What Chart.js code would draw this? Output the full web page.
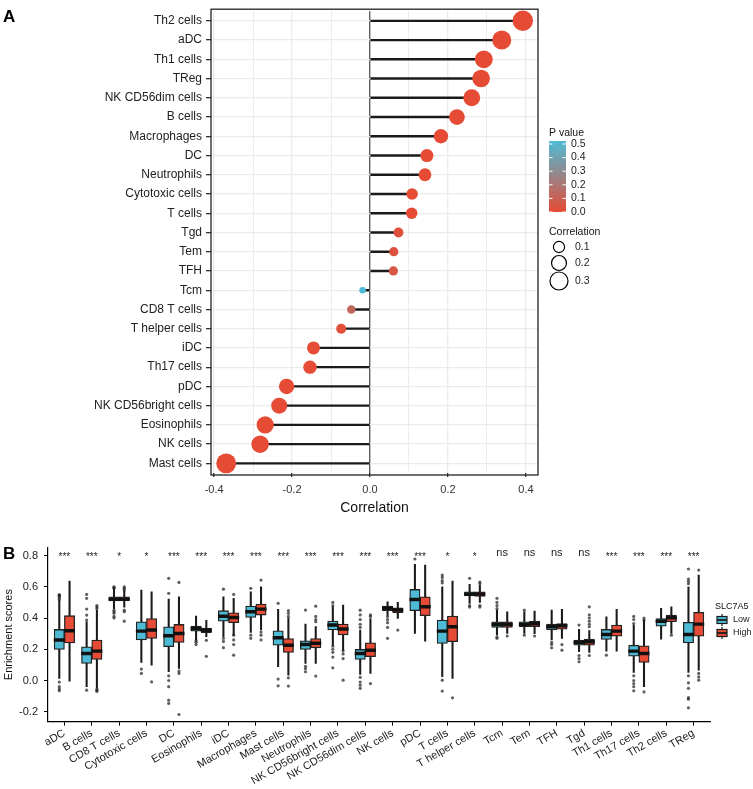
<!DOCTYPE html>
<html>
<head>
<meta charset="utf-8">
<script src="https://cdn.jsdelivr.net/npm/chart.js@4.4.0/dist/chart.umd.min.js"></script>
<style>
  html, body { margin: 0; padding: 0; background: #fff; }
  #chartA { position: absolute; left: 0; top: 0; }
  #chartB { position: absolute; left: 0; top: 535px; }
</style>
</head>
<body>
<canvas id="chartA" width="753" height="520"></canvas>
<canvas id="chartB" width="753" height="254"></canvas>
<script>
// ---------- panel A: correlation lollipop ----------
const cells = ['Th2 cells', 'aDC', 'Th1 cells', 'TReg', 'NK CD56dim cells', 'B cells', 'Macrophages', 'DC',
  'Neutrophils', 'Cytotoxic cells', 'T cells', 'Tgd', 'Tem', 'TFH', 'Tcm', 'CD8 T cells', 'T helper cells',
  'iDC', 'Th17 cells', 'pDC', 'NK CD56bright cells', 'Eosinophils', 'NK cells', 'Mast cells'];
const correlation = [0.392, 0.338, 0.292, 0.285, 0.261, 0.223, 0.182, 0.146, 0.141, 0.108, 0.107, 0.073,
  0.061, 0.060, -0.019, -0.048, -0.074, -0.145, -0.154, -0.214, -0.233, -0.269, -0.282, -0.369];
const pValue = [0, 0, 0, 0, 0, 0, 0, 0, 0, 0, 0, 0.02, 0.03, 0.05, 0.52, 0.13, 0.015, 0, 0, 0, 0, 0, 0, 0];
const pTicks = [0, 0.1, 0.2, 0.3, 0.4, 0.5];
const sizeTicks = [0.1, 0.2, 0.3];

// ---------- panel B: enrichment boxplots ----------
const immune = ['aDC', 'B cells', 'CD8 T cells', 'Cytotoxic cells', 'DC', 'Eosinophils', 'iDC', 'Macrophages',
  'Mast cells', 'Neutrophils', 'NK CD56bright cells', 'NK CD56dim cells', 'NK cells', 'pDC', 'T cells',
  'T helper cells', 'Tcm', 'Tem', 'TFH', 'Tgd', 'Th1 cells', 'Th17 cells', 'Th2 cells', 'TReg'];
const signif = ['***', '***', '*', '*', '***', '***', '***', '***', '***', '***', '***', '***', '***', '***',
  '*', '*', 'ns', 'ns', 'ns', 'ns', '***', '***', '***', '***'];

const lowMin = [0.013, -0.04, 0.46, 0.115, 0.056, 0.259, 0.28, 0.308, 0.088, 0.109, 0.226, 0.038, 0.419, 0.301, 0.024, 0.494, 0.291, 0.301, 0.259, 0.184, 0.188, 0.051, 0.265, 0.051];
const lowQ1 = [0.199, 0.109, 0.509, 0.259, 0.216, 0.316, 0.380, 0.404, 0.226, 0.199, 0.323, 0.135, 0.447, 0.447, 0.237, 0.541, 0.340, 0.344, 0.323, 0.226, 0.263, 0.156, 0.348, 0.241];
const lowMed = [0.259, 0.173, 0.521, 0.316, 0.286, 0.333, 0.412, 0.440, 0.273, 0.231, 0.355, 0.173, 0.462, 0.519, 0.316, 0.553, 0.359, 0.359, 0.344, 0.244, 0.295, 0.188, 0.380, 0.295];
const lowQ3 = [0.327, 0.216, 0.536, 0.376, 0.344, 0.348, 0.447, 0.476, 0.318, 0.254, 0.380, 0.199, 0.476, 0.583, 0.387, 0.568, 0.376, 0.376, 0.361, 0.259, 0.327, 0.226, 0.397, 0.372];
const lowMax = [0.515, 0.376, 0.585, 0.579, 0.521, 0.412, 0.536, 0.568, 0.455, 0.361, 0.472, 0.323, 0.504, 0.744, 0.600, 0.615, 0.451, 0.440, 0.451, 0.327, 0.408, 0.355, 0.462, 0.600];

const highMin = [-0.004, -0.047, 0.47, 0.098, 0.077, 0.28, 0.29, 0.323, 0.034, 0.109, 0.194, 0.045, 0.397, 0.252, 0.013, 0.50, 0.301, 0.30, 0.27, 0.179, 0.188, -0.04, 0.301, 0.066];
const highQ1 = [0.241, 0.135, 0.509, 0.269, 0.244, 0.306, 0.370, 0.419, 0.179, 0.209, 0.291, 0.152, 0.434, 0.415, 0.248, 0.538, 0.340, 0.344, 0.329, 0.226, 0.284, 0.115, 0.376, 0.284];
const highMed = [0.318, 0.188, 0.521, 0.323, 0.301, 0.321, 0.404, 0.457, 0.226, 0.239, 0.329, 0.194, 0.451, 0.472, 0.344, 0.553, 0.359, 0.363, 0.350, 0.248, 0.316, 0.173, 0.402, 0.361];
const highQ3 = [0.415, 0.259, 0.536, 0.397, 0.359, 0.336, 0.434, 0.489, 0.269, 0.269, 0.361, 0.241, 0.466, 0.536, 0.412, 0.568, 0.376, 0.380, 0.365, 0.265, 0.355, 0.222, 0.419, 0.436];
const highMax = [0.637, 0.45, 0.575, 0.568, 0.536, 0.385, 0.526, 0.60, 0.40, 0.345, 0.483, 0.397, 0.50, 0.739, 0.637, 0.61, 0.44, 0.444, 0.455, 0.32, 0.455, 0.387, 0.472, 0.675];

const outLow = [
  [0.55, 0.545, 0.54, 0.53, 0.52, -0.01, -0.04, -0.055, -0.065],
  [0.551, 0.526, 0.457, 0.419, 0.387, -0.062],
  [0.60, 0.595, 0.59, 0.45, 0.44, 0.43, 0.41, 0.40],
  [0.073, 0.045],
  [0.654, 0.558, 0.03, 0.0, -0.04, -0.126, -0.147],
  [0.255, 0.245, 0.23],
  [0.585, 0.27, 0.25, 0.21],
  [0.59, 0.29, 0.27],
  [0.494, 0.009, -0.034],
  [0.451, 0.09, 0.075, 0.056],
  [0.50, 0.48, 0.22, 0.20, 0.18, 0.15, 0.081],
  [0.45, 0.42, 0.39, 0.36, 0.34, 0.02, -0.01, -0.03, -0.05],
  [0.41, 0.39, 0.37, 0.34, 0.27],
  [0.778],
  [0.675, 0.66, 0.64, 0.625, 0.002, -0.068],
  [0.654, 0.48, 0.47],
  [0.526, 0.50, 0.48, 0.46, 0.28, 0.27],
  [0.45, 0.29],
  [0.244, 0.23, 0.209],
  [0.355, 0.16, 0.14, 0.12],
  [0.162],
  [0.41, 0.39, 0.365, 0.03, 0.0, -0.02, -0.04, -0.066],
  [],
  [0.714, 0.65, 0.635, 0.62, 0.03, -0.015, -0.05, -0.11, -0.12, -0.175]
];
const outHigh = [
  [],
  [0.48, 0.47, 0.46, -0.055, -0.062, -0.07],
  [0.60, 0.59, 0.58, 0.45, 0.44, 0.38],
  [-0.009],
  [0.628, 0.06, 0.045, -0.218],
  [0.257, 0.155],
  [0.551, 0.29, 0.26, 0.23, 0.162],
  [0.643, 0.31, 0.29, 0.26],
  [0.447, 0.43, 0.41, 0.017, -0.036],
  [0.476, 0.41, 0.39, 0.376, 0.028],
  [0.19, 0.17, 0.14, 0.002],
  [0.42, 0.41, -0.02],
  [0.323],
  [],
  [-0.111],
  [0.63, 0.62, 0.48, 0.47],
  [0.285],
  [0.285],
  [0.23, 0.194],
  [0.472, 0.42, 0.40, 0.38, 0.36, 0.344, 0.16],
  [],
  [0.40, 0.387, -0.073],
  [0.29],
  [0.707, 0.045, 0.023, 0.002]
];

// ---------- styles ----------
const FONT = '"Liberation Sans", Arial, sans-serif';
Chart.defaults.font.family = FONT;
const RED = [230, 75, 53];
const BLUE = [77, 187, 213];
const LOW_FILL = '#4DBBD5';
const HIGH_FILL = '#E64B35';
const P_MAX = 0.52;
const R_MIN = 3.3, R_MAX = 10.2;
const MED_HALF = 0.009;
const DODGE = 0.1875;
const EXPAND = 0.6;
const BOX_W = 10.3, WHISKER_W = 1.4;

function pColor(p) {
  const t = Math.min(1, p / P_MAX);
  const c = RED.map((r, k) => Math.round(r + (BLUE[k] - r) * t));
  return `rgb(${c[0]},${c[1]},${c[2]})`;
}
const absCorr = correlation.map(Math.abs);
const cMin = Math.min(...absCorr), cMax = Math.max(...absCorr);
function dotRadius(v) {
  const a = Math.abs(v);
  return Math.sqrt(R_MIN * R_MIN + (R_MAX * R_MAX - R_MIN * R_MIN) * (a - cMin) / (cMax - cMin));
}
const isZero = v => Math.abs(v) < 1e-9;
const isMajor = v => Math.round(v * 10) % 2 === 0;

const panelA = {
  id: 'panelA',
  afterDraw(chart) {
    const ctx = chart.ctx;
    const { left, right, top, bottom } = chart.chartArea;
    ctx.save();
    ctx.strokeStyle = '#222';
    ctx.lineWidth = 1.3;
    ctx.strokeRect(left, top - 2, right - left, bottom - top + 4);

    ctx.fillStyle = '#000';
    ctx.font = 'bold 17px ' + FONT;
    ctx.textBaseline = 'alphabetic';
    ctx.textAlign = 'left';
    ctx.fillText('A', 3, 22);

    // P value colour bar
    ctx.font = '10.5px ' + FONT;
    ctx.fillStyle = '#111';
    ctx.textBaseline = 'middle';
    ctx.fillText('P value', 549, 133);
    const barTop = 141, barBot = 212, pxPerUnit = 136;
    const grad = ctx.createLinearGradient(0, barBot, 0, barTop);
    for (let s = 0; s <= 10; s++) grad.addColorStop(s / 10, pColor(P_MAX * s / 10));
    ctx.fillStyle = grad;
    ctx.fillRect(549, barTop, 17, barBot - barTop);
    ctx.strokeStyle = '#fff';
    ctx.lineWidth = 1;
    pTicks.forEach(p => {
      const y = barBot - p * pxPerUnit;
      ctx.beginPath();
      ctx.moveTo(549, y); ctx.lineTo(552.5, y);
      ctx.moveTo(562.5, y); ctx.lineTo(566, y);
      ctx.stroke();
      ctx.fillStyle = '#222';
      ctx.fillText(p.toFixed(1), 571, y);
    });

    // size legend
    ctx.fillStyle = '#111';
    ctx.fillText('Correlation', 549, 232);
    const ys = [247, 263, 281];
    ctx.strokeStyle = '#000';
    ctx.lineWidth = 1.2;
    sizeTicks.forEach((v, k) => {
      ctx.beginPath();
      ctx.arc(559, ys[k], dotRadius(v), 0, Math.PI * 2);
      ctx.stroke();
      ctx.fillStyle = '#222';
      ctx.fillText(v.toFixed(1), 575, ys[k]);
    });
    ctx.restore();
  }
};

new Chart(document.getElementById('chartA'), {
  type: 'bar',
  data: {
    labels: cells,
    datasets: [
      {
        type: 'line',
        data: cells.map((c, i) => ({ x: correlation[i], y: c })),
        showLine: false,
        pointRadius: correlation.map(dotRadius),
        pointHoverRadius: correlation.map(dotRadius),
        pointBackgroundColor: pValue.map(pColor),
        pointBorderWidth: 0,
        clip: false,
        order: 0
      },
      {
        data: correlation.map(v => [0, v]),
        backgroundColor: '#1a1a1a',
        barThickness: 1.7,
        order: 1
      }
    ]
  },
  options: {
    indexAxis: 'y',
    responsive: false,
    animation: false,
    layout: { padding: { top: 6, right: 215, left: 0, bottom: 0 } },
    plugins: { legend: { display: false }, tooltip: { enabled: false } },
    scales: {
      x: {
        type: 'linear',
        min: -0.408,
        max: 0.431,
        border: { display: false },
        grid: {
          color: c => isZero(c.tick.value) ? '#5f5f5f' : '#ebebeb',
          lineWidth: c => isZero(c.tick.value) ? 1.4 : (isMajor(c.tick.value) ? 1.3 : 0.9),
          tickColor: c => isMajor(c.tick.value) ? '#333' : 'rgba(0,0,0,0)',
          tickLength: 4
        },
        ticks: {
          stepSize: 0.1,
          includeBounds: false,
          maxRotation: 0,
          padding: 6,
          color: '#333',
          font: { size: 11 },
          callback: v => isMajor(v) ? (isZero(v) ? 0 : v).toFixed(1) : ''
        },
        title: { display: true, text: 'Correlation', color: '#111', font: { size: 14 }, padding: { top: 0, bottom: 3 } },
        afterFit(s) { s.height = 47; }
      },
      y: {
        type: 'category',
        offset: true,
        border: { display: false },
        grid: { offset: false, color: '#ebebeb', lineWidth: 1.3, tickColor: '#333', tickLength: 5 },
        ticks: { autoSkip: false, padding: 4, color: '#222', font: { size: 12 } },
        afterFit(s) { s.width = 211; }
      }
    }
  },
  plugins: [panelA]
});

// ---------- panel B ----------
// the x axis is linear over the category indices, widened like a ggplot discrete axis
function boxSets(name, shift, mins, q1, med, q3, maxs, fill) {
  const at = i => i + shift;
  const common = { grouped: false };
  return [
    { ...common, label: name + ' whisker', data: mins.map((v, i) => ({ x: at(i), y: [v, maxs[i]] })),
      backgroundColor: '#1a1a1a', barThickness: WHISKER_W, order: 3 },
    { ...common, label: name, data: q1.map((v, i) => ({ x: at(i), y: [v, q3[i]] })),
      backgroundColor: fill, borderColor: '#222', borderWidth: 1.3, borderSkipped: false,
      barThickness: BOX_W, order: 2 },
    { ...common, label: name + ' median', data: med.map((v, i) => ({ x: at(i), y: [v - MED_HALF, v + MED_HALF] })),
      backgroundColor: '#111', barThickness: BOX_W, order: 1 }
  ];
}
function outlierSet(lists, shift) {
  const pts = [];
  lists.forEach((vals, i) => vals.forEach(v => pts.push({ x: i + shift, y: v })));
  return {
    type: 'line', data: pts, showLine: false,
    pointRadius: 1.6, pointHoverRadius: 1.6, pointBorderWidth: 0,
    pointBackgroundColor: 'rgba(30,30,30,0.7)', order: 0
  };
}

const panelB = {
  id: 'panelB',
  afterDraw(chart) {
    const ctx = chart.ctx;
    const { x, y } = chart.scales;
    ctx.save();
    ctx.fillStyle = '#000';
    ctx.font = 'bold 17px ' + FONT;
    ctx.textBaseline = 'alphabetic';
    ctx.textAlign = 'left';
    ctx.fillText('B', 3, 24);

    ctx.textAlign = 'center';
    ctx.fillStyle = '#222';
    const y8 = y.getPixelForValue(0.8);
    signif.forEach((s, i) => {
      const px = x.getPixelForValue(i);
      if (s === 'ns') {
        ctx.font = '11px ' + FONT;
        ctx.fillText(s, px, y8);
      } else {
        ctx.font = '10px ' + FONT;
        ctx.fillText(s, px, y8 + 4);
      }
    });

    // legend
    ctx.textAlign = 'left';
    ctx.textBaseline = 'middle';
    ctx.font = '9px ' + FONT;
    ctx.fillStyle = '#111';
    ctx.fillText('SLC7A5', 715, 72);
    [['Low', LOW_FILL, 85], ['High', HIGH_FILL, 98]].forEach(([lab, fill, cy]) => {
      ctx.strokeStyle = '#1a1a1a';
      ctx.lineWidth = 1.2;
      ctx.beginPath();
      ctx.moveTo(722, cy - 6); ctx.lineTo(722, cy + 6);
      ctx.stroke();
      ctx.fillStyle = fill;
      ctx.fillRect(717, cy - 3.5, 10, 7);
      ctx.strokeRect(717, cy - 3.5, 10, 7);
      ctx.lineWidth = 1.8;
      ctx.beginPath();
      ctx.moveTo(717, cy); ctx.lineTo(727, cy);
      ctx.stroke();
      ctx.fillStyle = '#222';
      ctx.fillText(lab, 733, cy);
    });
    ctx.restore();
  }
};

new Chart(document.getElementById('chartB'), {
  type: 'bar',
  data: {
    datasets: [
      ...boxSets('Low', -DODGE, lowMin, lowQ1, lowMed, lowQ3, lowMax, LOW_FILL),
      ...boxSets('High', DODGE, highMin, highQ1, highMed, highQ3, highMax, HIGH_FILL),
      outlierSet(outLow, -DODGE),
      outlierSet(outHigh, DODGE)
    ]
  },
  options: {
    responsive: false,
    animation: false,
    layout: { padding: { top: 12, right: 43, left: 0, bottom: 0 } },
    plugins: { legend: { display: false }, tooltip: { enabled: false } },
    scales: {
      x: {
        type: 'linear',
        min: -EXPAND,
        max: immune.length - 1 + EXPAND,
        offset: false,
        border: { color: '#000', width: 1.2 },
        grid: { offset: false, drawOnChartArea: false, color: '#000', tickLength: 4 },
        ticks: {
          stepSize: 1,
          includeBounds: false,
          autoSkip: false,
          minRotation: 30,
          maxRotation: 30,
          padding: 1,
          color: '#222',
          font: { size: 11 },
          callback: v => immune[Math.round(v)]
        },
        afterFit(s) { s.height = 67.3; }
      },
      y: {
        min: -0.264,
        max: 0.851,
        stacked: false,
        border: { color: '#000', width: 1.2 },
        grid: { drawOnChartArea: false, color: '#000', tickLength: 4 },
        ticks: {
          stepSize: 0.2,
          includeBounds: false,
          padding: 6,
          color: '#222',
          font: { size: 11 },
          callback: v => (isZero(v) ? 0 : v).toFixed(1)
        },
        title: { display: true, text: 'Enrichment scores', color: '#111', font: { size: 11 }, padding: { top: 2, bottom: 0 } },
        afterFit(s) { s.width = 48; }
      }
    }
  },
  plugins: [panelB]
});
</script>
</body>
</html>
